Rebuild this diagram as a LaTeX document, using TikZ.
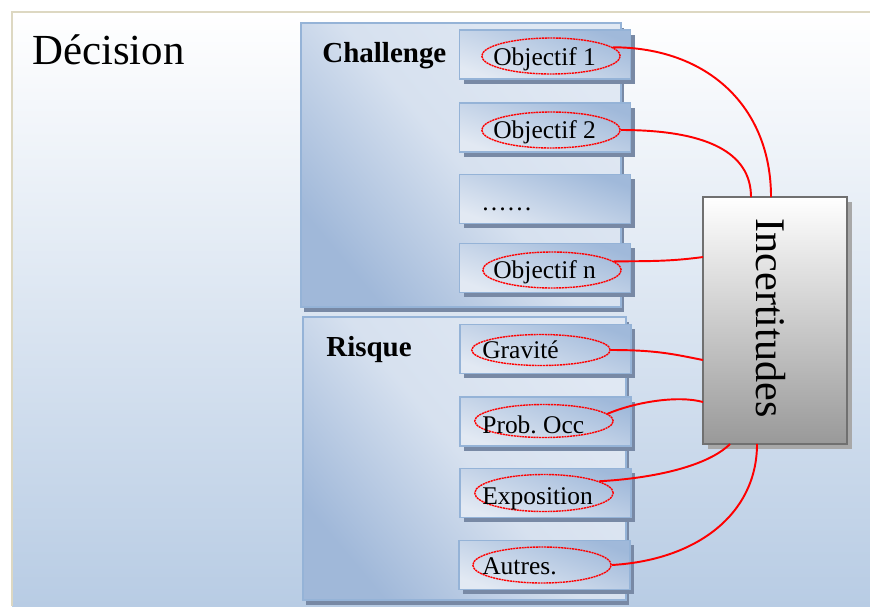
\documentclass[tikz,border=0pt]{standalone}
\usepackage{fontspec}
\setmainfont{Liberation Serif}
\usetikzlibrary{calc,shapes.geometric,shadows}
\frenchspacing
\definecolor{framec}{RGB}{221,216,194}
\definecolor{bgbot}{RGB}{184,204,228}
\definecolor{boxborder}{RGB}{149,179,215}
\definecolor{boxdark}{RGB}{160,184,217}
\definecolor{boxlight}{RGB}{224,232,243}
\definecolor{smalldark}{RGB}{160,185,218}
\definecolor{smalllight}{RGB}{226,233,243}
\definecolor{shadowc}{RGB}{120,137,165}
\definecolor{incborder}{RGB}{112,112,112}
\definecolor{incbot}{RGB}{153,153,153}
\definecolor{incshadow}{RGB}{168,168,168}
\begin{document}
\begin{tikzpicture}[x=0.02cm,y=-0.02cm,
  outerbox/.style={draw=boxborder,line width=1.2pt,top color=boxlight,bottom color=boxdark,middle color=boxlight!85!boxdark,shading angle=-50,inner sep=0pt,outer sep=0pt,
    general shadow={fill=shadowc,shadow xshift=1.7pt,shadow yshift=-2.6pt}},
  smallbox/.style={draw=boxborder,line width=1pt,top color=smalldark,bottom color=smalllight,shading angle=-20,minimum width=3.42cm,minimum height=0.98cm,inner sep=0pt,outer sep=0pt,
    general shadow={fill=shadowc,shadow xshift=2.3pt,shadow yshift=-2.8pt}},
  oval/.style={ellipse,draw=red,dash pattern=on 1.2pt off 0.4pt,line width=0.8pt,inner sep=0pt,minimum width=2.77cm},
  lbl/.style={anchor=base west,inner sep=0pt,font=\fontsize{14.5}{17}\selectfont},
  head/.style={anchor=base west,inner sep=0pt,font=\bfseries\fontsize{16.5}{19}\selectfont},
  link/.style={draw=red,line width=1.1pt}]
\useasboundingbox (0,0) rectangle (870,606);
% background
\shade[top color=white,bottom color=bgbot] (12,12) rectangle (870,606);
\draw[framec,line width=1.2pt] (12,606) -- (12,12) -- (870,12);
\node[anchor=base west,inner sep=0pt,font=\fontsize{24.4}{28}\selectfont] (title) at (32,64) {Décision};
% outer boxes
\node[outerbox,minimum width=6.4cm,minimum height=5.68cm] (chal) at (461,165) {};
\node[outerbox,minimum width=6.46cm,minimum height=5.66cm] (risq) at (464.5,458.5) {};
\node[head] (chaltxt) at (322,62) {Challenge};
\node[head] (risqtxt) at (326,356) {Risque};
% small boxes
\node[smallbox] (b1) at (545,54.5) {};
\node[smallbox] (b2) at (545,127.5) {};
\node[smallbox] (b3) at (545,199) {};
\node[smallbox] (b4) at (545,268) {};
\node[smallbox] (r1) at (545.5,349) {};
\node[smallbox] (r2) at (545.5,421.5) {};
\node[smallbox] (r3) at (545.5,493) {};
\node[smallbox] (r4) at (544.5,565) {};
% ovals
\node[oval,minimum height=0.72cm] (e1) at (551,56) {};
\node[oval,minimum height=0.72cm] (e2) at (551,130) {};
\node[oval,minimum height=0.72cm] (en) at (552,270) {};
\node[oval,minimum height=0.62cm] (eg) at (541,350) {};
\node[oval,minimum height=0.66cm] (ep) at (544,421) {};
\node[oval,minimum height=0.74cm] (ex) at (544,493) {};
\node[oval,minimum height=0.72cm] (ea) at (542,565) {};
% labels
\node[lbl] (t1) at (493,65) {Objectif 1};
\node[lbl] (t2) at (493,138) {Objectif 2};
\node[lbl] (t3) at (481,210) {……};
\node[lbl] (t4) at (493,278) {Objectif n};
\node[lbl] (t5) at (482,358) {Gravité};
\node[lbl] (t6) at (482,433) {Prob.\ Occ};
\node[lbl] (t7) at (482,504) {Exposition};
\node[lbl] (t8) at (482,574) {Autres.};
% Incertitudes
\node[draw=incborder,line width=1.3pt,top color=white,bottom color=incbot,minimum width=2.88cm,minimum height=4.94cm,inner sep=0pt,outer sep=0pt,
  general shadow={fill=incshadow,shadow xshift=2.6pt,shadow yshift=-2.6pt}] (inc) at (775,320.5) {};
\node[rotate=-90,inner sep=0pt,font=\fontsize{24}{28}\selectfont] (inctxt) at (771,318) {Incertitudes};
% connectors
\draw[link] (e1.8) .. controls +(95,0) and +(0,-90) .. ($(inc.north west)+(68,0)$);
\draw[link] (e2.east) .. controls +(85,0) and +(0,-45) .. ($(inc.north west)+(48,0)$);
\draw[link] (en.8) .. controls +(40,0) and +(-30,4) .. ($(inc.north west)+(0,60)$);
\draw[link] (eg.east) .. controls +(45,0) and +(-30,-6) .. ($(inc.north west)+(0,163)$);
\draw[link] ($(ep.center)+(63,-7)$) .. controls +(28,-12) and +(-25,-7) .. ($(inc.north west)+(0,205)$);
\draw[link] (ex.12) .. controls +(55,-3) and +(-22,22) .. ($(inc.south west)+(27,0)$);
\draw[link] (ea.east) .. controls +(85,-5) and +(0,70) .. ($(inc.south west)+(54,0)$);
\end{tikzpicture}
\end{document}
